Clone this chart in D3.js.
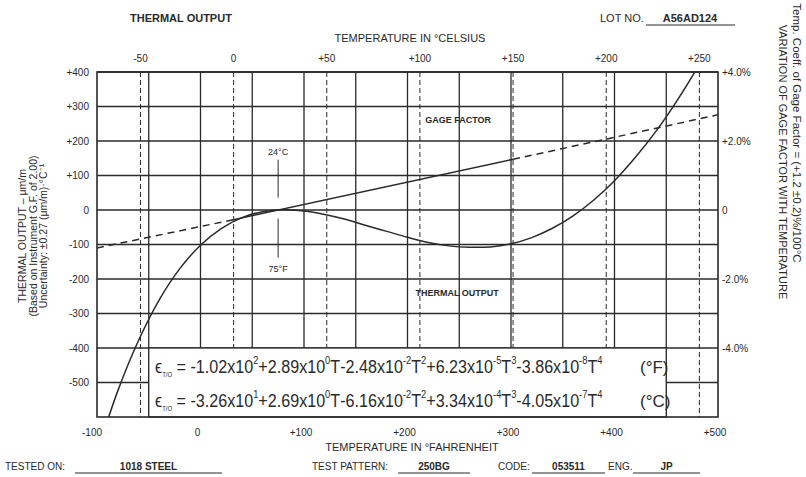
<!DOCTYPE html>
<html>
<head>
<meta charset="utf-8">
<script src="https://cdn.jsdelivr.net/npm/d3@7"></script>
<style>
  body { margin: 0; background: #fff; }
  svg { display: block; font-family: "Liberation Sans", Arial, sans-serif; }
</style>
</head>
<body>
<div id="chart"></div>
<script>
// data
const tempF = [-100, -80, -60, -40, -20, 0, 20, 40, 60, 80, 100, 120, 140, 160, 180, 200,
  220, 240, 260, 280, 300, 320, 340, 360, 380, 400, 420, 440, 460, 480, 500];
const thermalOutput = [-705, -525, -379, -261, -170, -102, -54, -22, -5, 1, -3, -13, -27, -45, -62, -79,
  -94, -104, -108, -107, -98, -80, -53, -17, 29, 85, 152, 228, 315, 412, 518];

// gage factor variation (%) : dashed / solid / dashed parts
const gageTempF = [-100, 32, 302, 500];
const gagePct = [-1.1, -0.28, 1.47, 2.76];

const celsiusTicks = [-50, 0, 50, 100, 150, 200, 250];
const fahrenheitTicks = [-100, 0, 100, 200, 300, 400, 500];
const outputTicks = [400, 300, 200, 100, 0, -100, -200, -300, -400, -500];
const pctTicks = [4, 2, 0, -2, -4];

// equation terms [coefficient, power of ten]
const coefF = [["-1.02", "2"], ["+2.89", "0"], ["-2.48", "-2"], ["+6.23", "-5"], ["-3.86", "-8"]];
const coefC = [["-3.26", "1"], ["+2.69", "0"], ["-6.16", "-2"], ["+3.34", "-4"], ["-4.05", "-7"]];

const width = 806;
const height = 477;
const ink = "#2a2a2a";

const x = d3.scaleLinear().domain([-100, 500]).range([97, 718]);
const xC = d3.scaleLinear().domain([(-100 - 32) * 5 / 9, (500 - 32) * 5 / 9]).range([97, 718]);
const y = d3.scaleLinear().domain([-600, 400]).range([417, 72]);
const yP = d3.scaleLinear().domain([-6, 4]).range([417, 72]);

const svg = d3.select("#chart").append("svg")
  .attr("width", width)
  .attr("height", height)
  .attr("viewBox", [0, 0, width, height]);

svg.append("defs").append("clipPath").attr("id", "plotClip")
  .append("rect").attr("x", 97).attr("y", 72).attr("width", 621).attr("height", 345);

//vertical solid grid every 50 F
const grid = svg.append("g").attr("stroke", ink).attr("fill", "none");
grid.selectAll(".vf")
  .data(d3.range(-50, 500, 50))
  .join("line")
  .attr("x1", d => x(d)).attr("x2", d => x(d))
  .attr("y1", y(400)).attr("y2", y(-600))
  .attr("stroke-width", 1.3);

//vertical dashed grid every 50 C
grid.selectAll(".vc")
  .data(celsiusTicks)
  .join("line")
  .attr("x1", d => xC(d)).attr("x2", d => xC(d))
  .attr("y1", y(400)).attr("y2", y(-600))
  .attr("stroke-width", 1)
  .attr("stroke-dasharray", "5,3");

//equation box hides the grid
svg.append("rect")
  .attr("x", x(-50)).attr("y", y(-400))
  .attr("width", x(450) - x(-50)).attr("height", y(-600) - y(-400))
  .attr("fill", "#fff").attr("stroke", ink).attr("stroke-width", 1.3);

//horizontal grid
grid.selectAll(".h")
  .data(outputTicks)
  .join("line")
  .attr("x1", 97).attr("x2", 718)
  .attr("y1", d => y(d)).attr("y2", d => y(d))
  .attr("stroke-width", 1.6);

//frame
svg.append("rect")
  .attr("x", 97).attr("y", 72).attr("width", 621).attr("height", 345)
  .attr("fill", "none").attr("stroke", ink).attr("stroke-width", 1.6);

//thermal output curve
const curves = svg.append("g").attr("clip-path", "url(#plotClip)").attr("fill", "none").attr("stroke", ink);
curves.append("path")
  .datum(tempF.map((t, i) => [t, thermalOutput[i]]))
  .attr("stroke-width", 1.5)
  .attr("d", d3.line().x(d => x(d[0])).y(d => y(d[1])).curve(d3.curveCatmullRom));

//gage factor line
const gageLine = d3.line().x(d => x(d[0])).y(d => yP(d[1]));
const gagePts = gageTempF.map((t, i) => [t, gagePct[i]]);
[[0, 1, "7,5"], [1, 2, null], [2, 3, "7,5"]].forEach(([a, b, dash]) => {
  curves.append("path")
    .datum([gagePts[a], gagePts[b]])
    .attr("stroke-width", 1.5)
    .attr("stroke-dasharray", dash)
    .attr("d", gageLine);
});

//axis labels
const lab = svg.append("g").attr("fill", ink).attr("font-size", 10);
lab.selectAll(".yl")
  .data(outputTicks)
  .join("text")
  .attr("x", 89).attr("y", d => y(d)).attr("dy", "0.35em")
  .attr("text-anchor", "end")
  .text(d => d > 0 ? "+" + d : d);

lab.selectAll(".yr")
  .data(pctTicks)
  .join("text")
  .attr("x", 722).attr("y", d => yP(d)).attr("dy", "0.35em")
  .text(d => d === 0 ? "0" : (d > 0 ? "+" : "") + d.toFixed(1) + "%");

lab.selectAll(".xt")
  .data(celsiusTicks)
  .join("text")
  .attr("x", d => xC(d)).attr("y", 62)
  .attr("text-anchor", "middle")
  .text(d => d > 0 ? "+" + d : d);

lab.selectAll(".xb")
  .data(fahrenheitTicks)
  .join("text")
  .attr("x", d => x(d) - (d < 0 ? 5 : 3)).attr("y", 436)
  .attr("text-anchor", "middle")
  .text(d => d > 0 ? "+" + d : d);

//titles
svg.append("text").attr("x", 410).attr("y", 42).attr("text-anchor", "middle")
  .attr("font-size", 11).attr("fill", ink).text("TEMPERATURE IN °CELSIUS");
svg.append("text").attr("x", 412).attr("y", 451).attr("text-anchor", "middle")
  .attr("font-size", 11).attr("fill", ink).text("TEMPERATURE IN °FAHRENHEIT");

svg.append("text").attr("x", 130).attr("y", 22).attr("font-size", 11).attr("font-weight", "bold")
  .attr("fill", ink).text("THERMAL OUTPUT");
svg.append("text").attr("x", 600).attr("y", 22).attr("font-size", 11)
  .attr("fill", ink).text("LOT NO.");
svg.append("text").attr("x", 690).attr("y", 22).attr("font-size", 11).attr("font-weight", "bold")
  .attr("text-anchor", "middle").attr("fill", ink).text("A56AD124");
svg.append("line").attr("x1", 646).attr("x2", 735).attr("y1", 25).attr("y2", 25)
  .attr("stroke", ink).attr("stroke-width", 1);

//left title
const lt = svg.append("text")
  .attr("transform", `translate(0, 236) rotate(-90)`)
  .attr("text-anchor", "middle").attr("font-size", 10.5).attr("fill", ink);
["THERMAL OUTPUT – μm/m", "(Based on Instrument G.F. of 2.00)", "Uncertainty:  ±0.27 (μm/m)·°C⁻¹"]
  .forEach((s, i) => lt.append("tspan").attr("x", 0).attr("y", 26 + i * 10.5).text(s));

//right title
const rt = svg.append("text")
  .attr("transform", `translate(806, 0) rotate(90)`)
  .attr("text-anchor", "middle").attr("fill", ink);
rt.append("tspan").attr("x", 133).attr("y", 13).attr("font-size", 11.5).text("Temp. Coeff. of Gage Factor = (+1.2 ±0.2)%/100°C");
rt.append("tspan").attr("x", 162).attr("y", 27).attr("font-size", 11).text("VARIATION OF GAGE FACTOR WITH TEMPERATURE");

//annotations
const ann = svg.append("g").attr("fill", ink).attr("font-size", 9);
ann.append("text").attr("x", x(75)).attr("y", y(160)).attr("text-anchor", "middle").text("24°C");
ann.append("text").attr("x", x(75)).attr("y", y(-180)).attr("text-anchor", "middle").text("75°F");
svg.append("line").attr("x1", x(75)).attr("x2", x(75)).attr("y1", y(146)).attr("y2", y(36))
  .attr("stroke", ink).attr("stroke-width", 1);
svg.append("line").attr("x1", x(75)).attr("x2", x(75)).attr("y1", y(-25)).attr("y2", y(-138))
  .attr("stroke", ink).attr("stroke-width", 1);
ann.append("text").attr("x", x(249)).attr("y", y(252)).attr("text-anchor", "middle")
  .attr("font-weight", "bold").text("GAGE FACTOR");
ann.append("text").attr("x", x(248)).attr("y", y(-248)).attr("text-anchor", "middle")
  .attr("font-weight", "bold").text("THERMAL OUTPUT");

//equations: segments are [text, level] with level 1 = superscript, -1 = subscript
function equation(coefs, yPos, unit) {
  const segs = [["ϵ", 0], ["T/O", -1], [" = ", 0]];
  coefs.forEach((c, i) => {
    segs.push([c[0] + "x10", 0], [c[1], 1]);
    if (i > 0) segs.push(["T", 0]);
    if (i > 1) segs.push([String(i), 1]);
  });
  const shift = { "0": 0, "1": -9, "-1": 4 };
  const g = svg.append("g");
  const t = g.append("text").attr("font-size", 19).attr("fill", ink);
  let cur = 0;
  segs.forEach(([s, lvl]) => {
    t.append("tspan")
      .attr("dy", shift[lvl] - cur)
      .attr("font-size", lvl === 0 ? 19 : (lvl === 1 ? 11 : 7))
      .text(s);
    cur = shift[lvl];
  });
  const w = t.node().getComputedTextLength();
  g.attr("transform", `translate(155, ${yPos}) scale(${447 / w}, 1)`);
  svg.append("text").attr("x", 640).attr("y", yPos).attr("font-size", 17)
    .attr("fill", ink).text(unit);
}
equation(coefF, 373, "(°F)");
equation(coefC, 407, "(°C)");

//bottom info row
const info = svg.append("g").attr("fill", ink).attr("font-size", 10);
const fields = [
  { label: "TESTED ON:", lx: 5, x1: 75, x2: 222, value: "1018 STEEL" },
  { label: "TEST PATTERN:", lx: 312, x1: 398, x2: 470, value: "250BG" },
  { label: "CODE:", lx: 498, x1: 532, x2: 605, value: "053511" },
  { label: "ENG.", lx: 608, x1: 633, x2: 700, value: "JP" }
];
fields.forEach(f => {
  info.append("text").attr("x", f.lx).attr("y", 470).text(f.label);
  info.append("text").attr("x", (f.x1 + f.x2) / 2).attr("y", 470).attr("text-anchor", "middle")
    .attr("font-weight", "bold").text(f.value);
  svg.append("line").attr("x1", f.x1).attr("x2", f.x2).attr("y1", 473).attr("y2", 473)
    .attr("stroke", ink).attr("stroke-width", 1);
});
</script>
</body>
</html>
